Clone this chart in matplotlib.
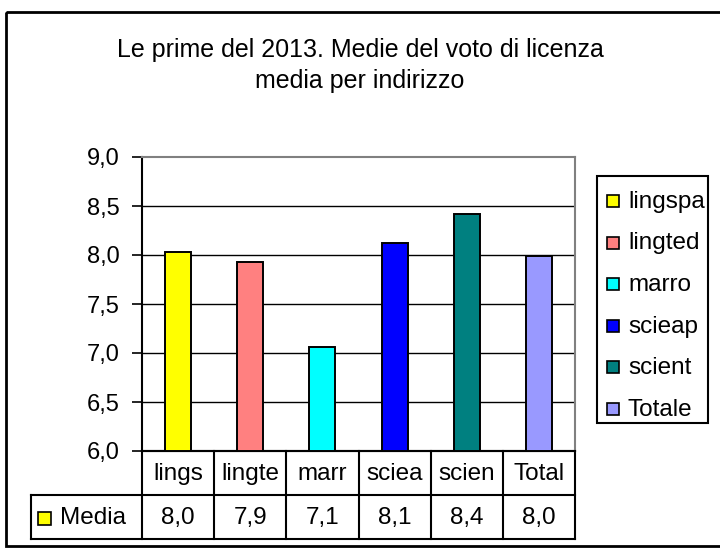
import matplotlib
matplotlib.use("Agg")
import matplotlib.pyplot as plt
from matplotlib.patches import Rectangle

plt.rcParams['font.family'] = ['Liberation Sans', 'DejaVu Sans']

# data
serie = ['lingspa', 'lingted', 'marro', 'scieap', 'scient', 'Totale']
etichette = ['lings', 'lingte', 'marr', 'sciea', 'scien', 'Total']
media = [8.03, 7.93, 7.06, 8.12, 8.42, 7.99]
colori = ['#FFFF00', '#FF8080', '#00FFFF', '#0000FF', '#008080', '#9999FF']
yticks = [6.0, 6.5, 7.0, 7.5, 8.0, 8.5, 9.0]

W, H = 720, 554
FS = 17.5
fig = plt.figure(figsize=(W / 100, H / 100), dpi=100)

# overlay in pixel coords for border, title, table, legend
ov = fig.add_axes([0, 0, 1, 1], zorder=0)
ov.set_xlim(0, W)
ov.set_ylim(H, 0)
ov.axis('off')

# plot area (pixels)
L, R, T, B = 142, 575, 157, 451
ax = fig.add_axes([L / W, 1 - B / H, (R - L) / W, (B - T) / H], zorder=2)
ax.patch.set_alpha(0)

x = range(len(media))
for i in x:
    ax.bar(i, media[i] - 6.0, bottom=6.0, width=0.36, color=colori[i],
           edgecolor='black', linewidth=1.4, zorder=3)
ax.set_xlim(-0.5, len(media) - 0.5)
ax.set_ylim(6.0, 9.0)
ax.set_yticks(yticks)
ax.set_yticklabels([f"{v:.1f}".replace('.', ',') for v in yticks], fontsize=17)
ax.set_xticks([])
for v in yticks[1:-1]:
    ax.axhline(v, color='black', lw=1, zorder=1)
ax.tick_params(axis='y', direction='out', length=7, width=1.2, pad=9)
ax.spines['left'].set_color('black')
ax.spines['bottom'].set_color('black')
ax.spines['top'].set_color('#808080')
ax.spines['right'].set_color('#808080')
for s in ax.spines.values():
    s.set_linewidth(1.5)

# outer border
ov.add_patch(Rectangle((6, 12), 720, 534, fill=False, ec='black', lw=2))

# title
ov.text(360, 50, "Le prime del 2013. Medie del voto di licenza", ha='center',
        va='center', fontsize=18)
ov.text(360, 81, "media per indirizzo", ha='center', va='center', fontsize=18)

# data table
colw = (R - L) / len(media)
r0, r1, r2 = B, 495, 539
tleft = 31
ov.plot([L, R], [r0, r0], color='black', lw=1.5)
ov.plot([tleft, R], [r1, r1], color='black', lw=1.5)
ov.plot([tleft, R], [r2, r2], color='black', lw=1.5)
ov.plot([tleft, tleft], [r1, r2], color='black', lw=1.5)
for k in range(len(media) + 1):
    xx = L + k * colw
    ov.plot([xx, xx], [r0, r2], color='black', lw=1.5)
for k in range(len(media)):
    xc = L + (k + 0.5) * colw
    ov.text(xc, (r0 + r1) / 2 + 1, etichette[k], ha='center', va='center', fontsize=FS)
    ov.text(xc, (r1 + r2) / 2 + 1, f"{media[k]:.1f}".replace('.', ','),
            ha='center', va='center', fontsize=FS)
ov.add_patch(Rectangle((38, 512), 13, 13, fc=colori[0], ec='black', lw=1.2))
ov.text(60, (r1 + r2) / 2 + 1, "Media", ha='left', va='center', fontsize=FS)

# legend
ov.add_patch(Rectangle((597, 176), 111, 247, fill=False, ec='black', lw=1.5))
for k in range(len(serie)):
    yc = 201 + k * 41.5
    ov.add_patch(Rectangle((607, yc - 6), 12, 12, fc=colori[k], ec='black', lw=1.2))
    ov.text(628, yc + 1, serie[k], ha='left', va='center', fontsize=FS)

fig.savefig('out.png', dpi=100)
